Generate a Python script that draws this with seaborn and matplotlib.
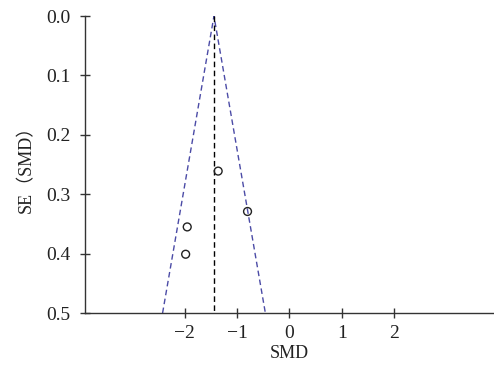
import matplotlib
matplotlib.use("Agg")
import matplotlib.pyplot as plt
import seaborn as sns
import numpy as np
import pandas as pd

smd = [-1.36, -0.80, -1.95, -1.98]
se = [0.261, 0.329, 0.355, 0.401]
pooled = -1.44
se_max = 0.5
x_ticks = [-2, -1, 0, 1, 2]
y_ticks = [0.0, 0.1, 0.2, 0.3, 0.4, 0.5]

sns.set_style("ticks")
plt.rcParams['font.family'] = ['Liberation Serif', 'Noto Sans CJK SC']

fig = plt.figure(figsize=(4.94, 3.74), dpi=100)
ax = fig.add_axes([0.172, 0.163, 0.828, 0.794])

df = pd.DataFrame({"SMD": smd, "SE": se})
funnel = pd.DataFrame({
    "x": [pooled - 1.96 * se_max, pooled, pooled + 1.96 * se_max],
    "y": [se_max, 0.0, se_max],
})
center = pd.DataFrame({"x": [pooled, pooled], "y": [0.0, se_max]})

sns.lineplot(data=funnel, x="x", y="y", sort=False, ax=ax, color="#4b4ba6",
             linestyle=(0, (4, 2.5)), linewidth=1.0, estimator=None)
sns.lineplot(data=center, x="x", y="y", sort=False, ax=ax, color="black",
             linestyle=(0, (4, 2.5)), linewidth=1.0, estimator=None)
sns.scatterplot(data=df, x="SMD", y="SE", ax=ax, marker="o", s=32,
                facecolor="none", edgecolor="#222222", linewidth=1.0, zorder=5)

ax.set_xlim(-3.9, 3.9)
ax.set_ylim(0.5, 0.0)
ax.set_xticks(x_ticks)
ax.set_xticklabels([f"\u2212{abs(t)}" if t < 0 else str(t) for t in x_ticks])
ax.set_yticks(y_ticks)
ax.set_yticklabels([f"{t:.1f}" for t in y_ticks])
ax.tick_params(direction="inout", length=7, width=1, labelsize=14, colors="#333333",
               labelcolor="#222222")
ax.tick_params(axis="y", pad=7)
ax.tick_params(axis="x", pad=5)
for s in ["top", "right"]:
    ax.spines[s].set_visible(False)
for s in ["left", "bottom"]:
    ax.spines[s].set_color("#333333")
    ax.spines[s].set_linewidth(1.0)

ax.set_xlabel("SMD", fontsize=13, color="#222222", labelpad=2)
ax.set_ylabel("SE（SMD）", fontsize=13, color="#222222", labelpad=8)

fig.savefig("out.png", dpi=100)
